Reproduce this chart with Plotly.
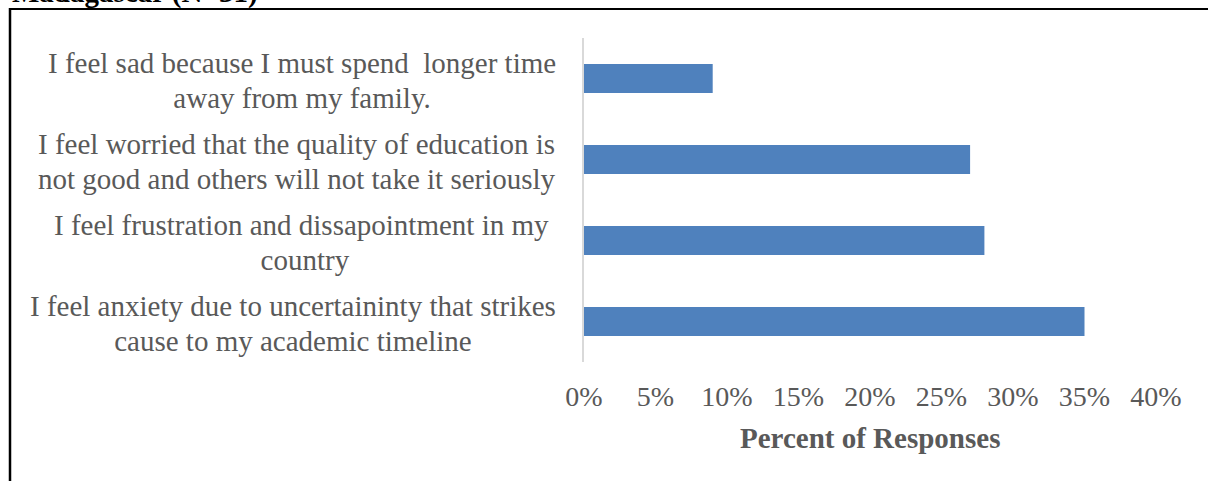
import plotly.graph_objects as go

categories = [
    "I feel sad because I must spend  longer time<br>away from my family.",
    "I feel worried that the quality of education is<br>not good and others will not take it seriously",
    "I feel frustration and dissapointment in my <br>country",
    "I feel anxiety due to uncertaininty that strikes<br>cause to my academic timeline",
]
keys = ["sad", "worried", "frustration", "anxiety"]
values = [9, 27, 28, 35]
tick_vals = [0, 5, 10, 15, 20, 25, 30, 35, 40]
tick_text = ["0%", "5%", "10%", "15%", "20%", "25%", "30%", "35%", "40%"]
x_title = "Percent of Responses"
chart_title = "Madagascar (N=31)"

W, H = 1208, 481
L, R, T, B = 584, 52, 38, 119
PW, PH = W - L - R, H - T - B

def px(x):
    return (x - L) / PW

def py(y):
    return (H - B - y) / PH

TXT = "#595959"
FONT = "Liberation Serif, Times New Roman, serif"

fig = go.Figure(go.Bar(
    x=values, y=keys, orientation="h",
    marker=dict(color="#4f81bd", line=dict(width=0)),
    width=0.36,
))

annotations = []
for k, lab in zip(keys, categories):
    text = "<br>".join('<span style="font-size:29px">' + ln + "</span>" for ln in lab.split("<br>"))
    annotations.append(dict(
        x=px(558), xref="paper", y=k, yref="y", yshift=-2,
        text=text, showarrow=False, xanchor="right", yanchor="middle",
        align="center", font=dict(family=FONT, size=27, color=TXT),
    ))
annotations.append(dict(
    x=px(870), xref="paper", y=py(438), yref="paper",
    text="<b>" + x_title + "</b>", showarrow=False, xanchor="center", yanchor="middle",
    font=dict(family=FONT, size=29, color=TXT),
))
annotations.append(dict(
    x=px(10), xref="paper", y=py(-8), yref="paper",
    text="<b>" + chart_title + "</b>", showarrow=False, xanchor="left", yanchor="middle",
    font=dict(family=FONT, size=29, color="#000000"),
))

shapes = [
    dict(type="line", xref="paper", yref="paper", x0=px(10), x1=px(10), y0=py(8), y1=py(490),
         line=dict(color="#000000", width=2.5)),
    dict(type="line", xref="paper", yref="paper", x0=px(9), x1=px(1215), y0=py(9), y1=py(9),
         line=dict(color="#000000", width=2)),
]

fig.update_layout(
    width=W, height=H,
    margin=dict(l=L, r=R, t=T, b=B, pad=0),
    paper_bgcolor="white", plot_bgcolor="white",
    showlegend=False,
    annotations=annotations,
    shapes=shapes,
    xaxis=dict(
        range=[0, 40], tickvals=tick_vals, ticktext=tick_text,
        showgrid=False, zeroline=False, showline=False,
        ticks="", ticklabelstandoff=15,
        tickfont=dict(family=FONT, size=28, color=TXT),
    ),
    yaxis=dict(
        categoryorder="array", categoryarray=keys[::-1],
        range=[-0.5, 3.5], showticklabels=False, showgrid=False,
        zeroline=False, showline=True, linecolor="#d9d9d9", linewidth=2,
        ticks="",
    ),
)

fig.write_html("out.html")
